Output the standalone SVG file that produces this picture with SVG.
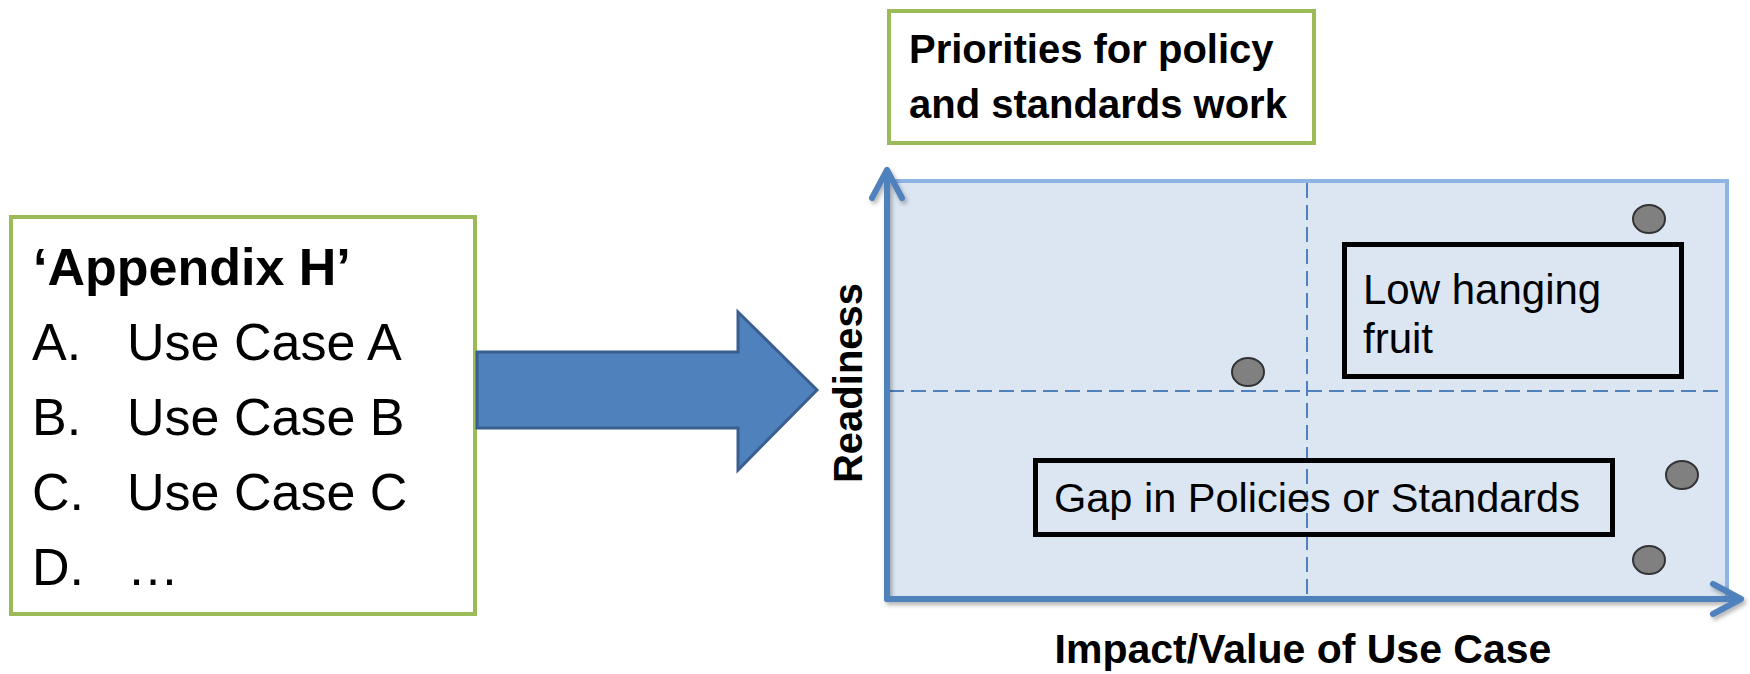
<svg xmlns="http://www.w3.org/2000/svg" width="1750" height="674" viewBox="0 0 1750 674">
<style>
.t{font-family:"Liberation Sans",Arial,sans-serif;fill:#000}
.b{font-weight:bold}
.green{fill:#fff;stroke:#9BBB59;stroke-width:4}
.blk{fill:none;stroke:#000;stroke-width:5}
.dot{fill:#808080;stroke:#333;stroke-width:2}
.dash{stroke:#4F81BD;stroke-width:2;stroke-dasharray:15 7;fill:none}
.axis{stroke:#4F81BD;stroke-width:6;fill:none;stroke-linecap:round;stroke-linejoin:round}
</style>
<defs>
<filter id="sh" x="-10%" y="-10%" width="120%" height="120%">
<feDropShadow dx="2" dy="3" stdDeviation="2" flood-color="#000" flood-opacity="0.3"/>
</filter>
</defs>
<rect width="1750" height="674" fill="#fff"/>

<g id="appendix">
<rect class="green" x="11" y="217" width="464" height="397"/>
<text class="t b" x="33" y="285" font-size="52">‘Appendix H’</text>
<text class="t" font-size="52"><tspan x="32" y="360">A.</tspan><tspan x="127" y="360">Use Case A</tspan></text>
<text class="t" font-size="52"><tspan x="32" y="435">B.</tspan><tspan x="127" y="435">Use Case B</tspan></text>
<text class="t" font-size="52"><tspan x="32" y="510">C.</tspan><tspan x="127" y="510">Use Case C</tspan></text>
<text class="t" font-size="52"><tspan x="32" y="585">D.</tspan><tspan x="127" y="585">…</tspan></text>
</g>

<g id="big-arrow">
<polygon points="477,352 738,352 738,312 817,390 738,470 738,428 477,428" fill="#4F81BD" stroke="#3A5F8F" stroke-width="3" stroke-linejoin="miter"/>
</g>

<g id="title">
<rect class="green" x="889" y="11" width="425" height="132"/>
<text class="t b" font-size="40"><tspan x="909" y="63">Priorities for policy</tspan><tspan x="909" y="118">and standards work</tspan></text>
</g>

<g id="chart">
<rect x="887" y="181" width="840" height="418" fill="#DCE6F2" stroke="#8EB4E3" stroke-width="4"/>
</g>

<g id="connectors">
<line class="dash" x1="1307" y1="183" x2="1307" y2="597"/>
<line class="dash" x1="889" y1="391" x2="1725" y2="391"/>
<g filter="url(#sh)">
<path class="axis" d="M887,599 L887,170 M872,198 L887,170 L902,198"/>
<path class="axis" d="M887,599 L1741,599 M1713,584 L1741,599 L1713,614"/>
</g>
</g>

<g id="low-hanging">
<rect class="blk" x="1344.5" y="244.5" width="337" height="132"/>
<text class="t" font-size="42"><tspan x="1363" y="304">Low hanging</tspan><tspan x="1363" y="353">fruit</tspan></text>
</g>

<g id="gap">
<rect class="blk" x="1035.5" y="460.5" width="577" height="74"/>
<text class="t" x="1054" y="512" font-size="41.5">Gap in Policies or Standards</text>
</g>

<g id="dot1"><ellipse class="dot" cx="1649" cy="219" rx="16" ry="14"/></g>
<g id="dot2"><ellipse class="dot" cx="1248" cy="372" rx="16" ry="14"/></g>
<g id="dot3"><ellipse class="dot" cx="1682" cy="475" rx="16" ry="14"/></g>
<g id="dot4"><ellipse class="dot" cx="1649" cy="560" rx="16" ry="14"/></g>

<g id="readiness">
<text class="t b" font-size="40" text-anchor="middle" transform="translate(862,383) rotate(-90)">Readiness</text>
</g>

<g id="x-label">
<text class="t b" x="1303" y="663" font-size="41" text-anchor="middle">Impact/Value of Use Case</text>
</g>
</svg>
